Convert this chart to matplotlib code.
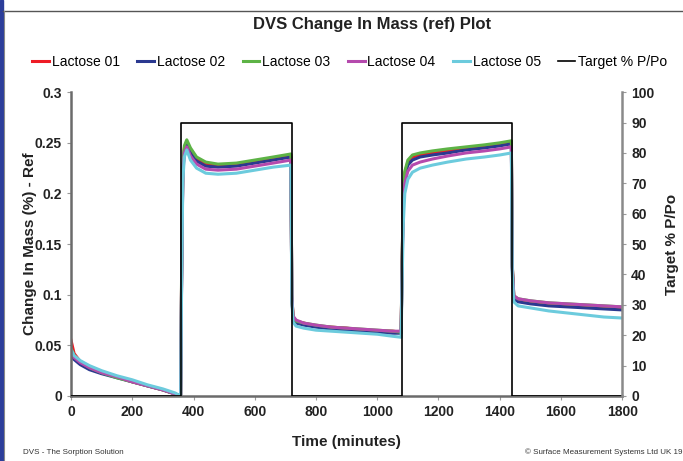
import matplotlib
matplotlib.use("Agg")
import matplotlib.pyplot as plt
from matplotlib.patches import Rectangle
from matplotlib.lines import Line2D

plt.rcParams['font.family'] = ['Liberation Sans', 'DejaVu Sans']

# tiempo (minutos)
t = [0, 10, 30, 60, 100, 150, 200, 250, 300, 340, 358,
     361, 365, 370, 378, 390, 410, 440, 480, 540, 600, 660, 718,
     721, 725, 735, 760, 800, 850, 900, 950, 1000, 1050, 1078,
     1081, 1085, 1090, 1100, 1115, 1140, 1180, 1230, 1290, 1350, 1400, 1438,
     1441, 1446, 1460, 1500, 1560, 1620, 1680, 1740, 1800]

lactose_01 = [0.055, 0.042, 0.034, 0.029, 0.024, 0.019, 0.014, 0.010, 0.006, 0.002, 0.000,
              0.115, 0.222, 0.245, 0.251, 0.243, 0.234, 0.229, 0.228, 0.229, 0.232, 0.235, 0.238,
              0.100, 0.078, 0.074, 0.072, 0.069, 0.068, 0.067, 0.065, 0.064, 0.064, 0.063,
              0.128, 0.198, 0.220, 0.231, 0.236, 0.238, 0.240, 0.242, 0.244, 0.247, 0.249, 0.251,
              0.128, 0.098, 0.095, 0.093, 0.091, 0.090, 0.089, 0.088, 0.087]
lactose_02 = [0.040, 0.036, 0.031, 0.026, 0.022, 0.018, 0.014, 0.010, 0.006, 0.002, 0.000,
              0.112, 0.220, 0.243, 0.248, 0.240, 0.232, 0.227, 0.226, 0.227, 0.230, 0.233, 0.236,
              0.098, 0.076, 0.072, 0.070, 0.068, 0.066, 0.065, 0.064, 0.063, 0.062, 0.062,
              0.125, 0.195, 0.217, 0.228, 0.233, 0.236, 0.238, 0.240, 0.243, 0.245, 0.247, 0.249,
              0.125, 0.096, 0.093, 0.091, 0.089, 0.088, 0.087, 0.086, 0.085]
lactose_03 = [0.047, 0.040, 0.034, 0.028, 0.023, 0.018, 0.014, 0.010, 0.006, 0.002, 0.000,
              0.120, 0.225, 0.247, 0.253, 0.245, 0.236, 0.231, 0.229, 0.230, 0.233, 0.236, 0.239,
              0.100, 0.078, 0.074, 0.072, 0.070, 0.068, 0.067, 0.066, 0.065, 0.064, 0.063,
              0.130, 0.200, 0.222, 0.233, 0.238, 0.240, 0.242, 0.244, 0.246, 0.248, 0.250, 0.252,
              0.130, 0.099, 0.096, 0.094, 0.092, 0.091, 0.090, 0.089, 0.088]
lactose_04 = [0.044, 0.038, 0.033, 0.028, 0.023, 0.019, 0.014, 0.010, 0.006, 0.002, 0.000,
              0.110, 0.218, 0.240, 0.246, 0.237, 0.229, 0.224, 0.223, 0.224, 0.227, 0.230, 0.233,
              0.100, 0.079, 0.075, 0.072, 0.070, 0.068, 0.067, 0.066, 0.065, 0.064, 0.064,
              0.120, 0.188, 0.210, 0.222, 0.228, 0.231, 0.234, 0.237, 0.240, 0.242, 0.244, 0.246,
              0.128, 0.099, 0.096, 0.094, 0.092, 0.091, 0.090, 0.089, 0.088]
lactose_05 = [0.046, 0.040, 0.035, 0.030, 0.025, 0.020, 0.016, 0.011, 0.007, 0.003, 0.000,
              0.105, 0.212, 0.236, 0.243, 0.233, 0.225, 0.220, 0.219, 0.220, 0.223, 0.226, 0.228,
              0.095, 0.073, 0.069, 0.067, 0.065, 0.064, 0.063, 0.062, 0.061, 0.059, 0.058,
              0.110, 0.170, 0.200, 0.214, 0.221, 0.225, 0.228, 0.231, 0.234, 0.236, 0.238, 0.240,
              0.120, 0.093, 0.089, 0.087, 0.084, 0.082, 0.080, 0.078, 0.077]

# humedad objetivo (escalones)
target_t = [0, 360, 720, 1080, 1440, 1800]
target_rh = [0, 90, 0, 90, 0, 0]

series = [("Lactose 01", lactose_01, "#ee1c25"),
          ("Lactose 02", lactose_02, "#2b3990"),
          ("Lactose 03", lactose_03, "#5db346"),
          ("Lactose 04", lactose_04, "#b54aad"),
          ("Lactose 05", lactose_05, "#6ccbdd")]

fig = plt.figure(figsize=(6.83, 4.61), dpi=100)
ax = fig.add_axes([0.104, 0.141, 0.807, 0.659])

for nombre, vals, col in series:
    ax.plot(t, vals, color=col, lw=2.2, label=nombre)

ax.set_xlim(0, 1800)
ax.set_ylim(0, 0.3)
ax.set_xticks(range(0, 1801, 200))
ax.set_yticks([0, 0.05, 0.1, 0.15, 0.2, 0.25, 0.3])
ax.set_yticklabels(["0", "0.05", "0.1", "0.15", "0.2", "0.25", "0.3"])

ax2 = ax.twinx()
ax2.plot(target_t, target_rh, color="black", lw=1.2, drawstyle="steps-post", label="Target % P/Po")
ax2.set_ylim(0, 100)
ax2.set_yticks(range(0, 101, 10))

for a in (ax, ax2):
    a.spines["top"].set_visible(False)
    for s in a.spines.values():
        s.set_color("#6b6b6b")
        s.set_linewidth(1.8)
    a.tick_params(colors="#9a9a9a", length=3, width=0.8, labelsize=10, labelcolor="#222222")
    for lab in a.get_xticklabels() + a.get_yticklabels():
        lab.set_fontweight("bold")
ax.spines["right"].set_visible(False)
ax2.spines["left"].set_visible(False)
ax2.spines["bottom"].set_visible(False)
ax2.spines["right"].set_color("#8a8a8a")

ax.set_xlabel("Time (minutes)", fontsize=11, fontweight="bold", color="#222222")
ax.xaxis.set_label_coords(0.5, -0.13)
ax.set_ylabel("Change In Mass (%) - Ref", fontsize=11, fontweight="bold", color="#222222")
ax.yaxis.set_label_coords(-0.062, 0.5)
ax2.set_ylabel("Target % P/Po", fontsize=11, fontweight="bold", color="#222222")
ax2.yaxis.set_label_coords(1.078, 0.5)

fig.text(0.545, 0.946, "DVS Change In Mass (ref) Plot", ha="center", va="center",
         fontsize=12, fontweight="bold", color="#222222")

handles = [Line2D([], [], color=c, lw=2.2) for _, _, c in series] + [Line2D([], [], color="black", lw=1.2)]
labels = [n for n, _, _ in series] + ["Target % P/Po"]
fig.legend(handles, labels, loc="center", bbox_to_anchor=(0.512, 0.866), ncol=6, frameon=False,
           fontsize=10, handlelength=1.2, handletextpad=0.2, columnspacing=1.27)

fig.text(0.034, 0.01, "DVS - The Sorption Solution", fontsize=5.8, color="#333333", ha="left", va="bottom")
fig.text(0.999, 0.01, "\u00a9 Surface Measurement Systems Ltd UK 19", fontsize=5.8, color="#333333",
         ha="right", va="bottom")

# marco de la diapositiva
fig.patches.append(Rectangle((0, 0), 0.0045, 1, transform=fig.transFigure, color="#2c3e9a", zorder=0))
fig.lines.append(Line2D([0.0045, 1], [0.977, 0.977], transform=fig.transFigure, color="#555555", lw=1))
fig.lines.append(Line2D([0.0055, 0.0055], [0, 0.977], transform=fig.transFigure, color="#888888", lw=0.8))

fig.savefig("out.png", dpi=100)
